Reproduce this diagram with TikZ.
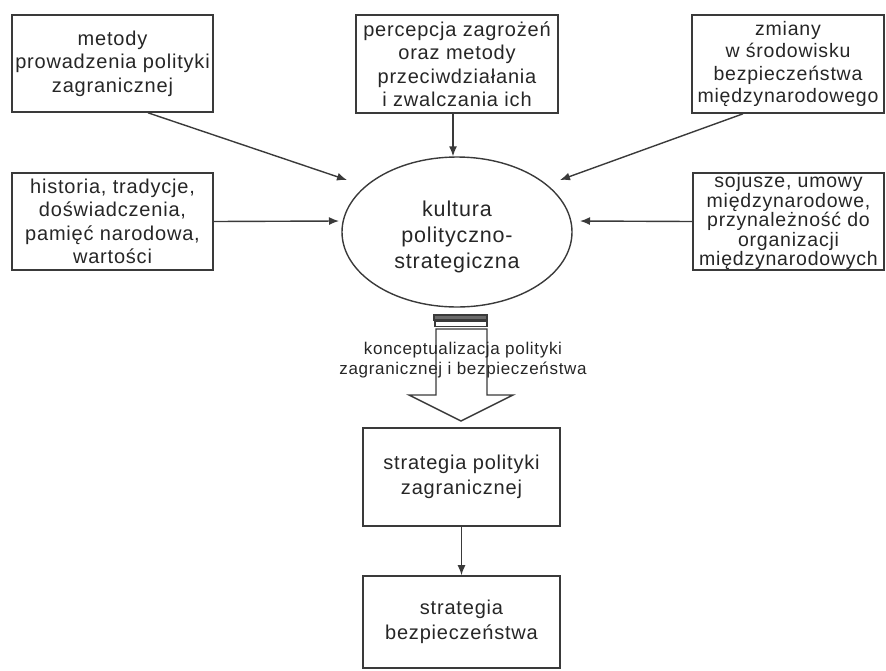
\documentclass[tikz,border=0pt]{standalone}
\usepackage{fontspec}
\setmainfont{Liberation Sans}[LetterSpace=4]
\usetikzlibrary{arrows.meta,shapes.geometric}

\definecolor{edge}{HTML}{3A3A3A}
\definecolor{band}{HTML}{6A6A6A}

\tikzset{
  infobox/.style={draw=edge, line width=1.6pt, fill=white, align=center,
    inner sep=0pt, font=\fontsize{20}{23.5}\selectfont, text=black!85},
  feed/.style={draw=edge, line width=1.4pt, -{Latex[length=10pt,width=8pt]}},
}

\begin{document}
\begin{tikzpicture}[x=1pt,y=-1pt]
\useasboundingbox (0,0) rectangle (886,670);

% influencing factors
\node[infobox, minimum width=201pt, minimum height=97pt] (b1) at (112.5,63.5)
  {metody\\prowadzenia polityki\\zagranicznej};
\node[infobox, minimum width=202pt, minimum height=98pt] (b2) at (457,64)
  {percepcja zagrożeń\\oraz metody\\przeciwdziałania\\i zwalczania ich};
\node[infobox, minimum width=192pt, minimum height=98pt,
      font=\fontsize{19.5}{22.5}\selectfont] (b3) at (788,64)
  {zmiany\\w środowisku\\bezpieczeństwa\\międzynarodowego};
\node[infobox, minimum width=201pt, minimum height=97pt] (b4) at (112.5,221.5)
  {historia, tradycje,\\doświadczenia,\\pamięć narodowa,\\wartości};
\node[infobox, minimum width=191pt, minimum height=97pt,
      font=\fontsize{19.5}{19.5}\selectfont] (b5) at (788.5,221.5)
  {sojusze, umowy\\międzynarodowe,\\przynależność do\\organizacji\\międzynarodowych};

% central culture
\node[draw=edge, line width=1.4pt, ellipse, minimum width=230pt, minimum height=150pt,
      inner sep=0pt] (e) at (457,232) {};
\node[align=center, text=black!85, inner sep=0pt,
      font=\fontsize{21.5}{26}\selectfont] (etext) at (457,237)
  {kultura\\polityczno-\\strategiczna};

% arrow tips near the ellipse
\coordinate (t1) at (347,180);
\coordinate (t3) at (560,180);
\coordinate (t4) at (339,221);
\coordinate (t5) at (580,221);

\draw[feed] ([xshift=35.5pt]b1.south) -- (t1);
\draw[feed] ([xshift=-4pt]b2.south) -- ([xshift=-4pt]b2.south |- e.north);
\draw[feed] ([xshift=-45pt]b3.south) -- (t3);
\draw[feed] (b4.east) -- (t4);
\draw[feed] (b5.west) -- (t5);

% striped block arrow
\fill[band] (434,315) rectangle (487,320);
\draw[edge, line width=1.2pt] (434,315) rectangle (487,320);
\draw[edge, line width=1.1pt] (435,321.5) rectangle (487,326.5);
\draw[edge, line width=1.4pt, fill=white, line join=miter]
  (436,329) -- (487,329) -- (487,395) -- (513,395) -- (461,421)
  -- (409,395) -- (436,395) -- cycle;
\node[align=center, text=black!85, font=\fontsize{17}{20}\selectfont,
      inner sep=0pt] (lbl) at (463,360)
  {konceptualizacja polityki\\zagranicznej i bezpieczeństwa};

% resulting strategies
\node[infobox, minimum width=197pt, minimum height=98pt,
      font=\fontsize{20}{25}\selectfont] (b6) at (461.5,477)
  {strategia polityki\\zagranicznej};
\node[infobox, minimum width=197pt, minimum height=92pt,
      font=\fontsize{20}{25}\selectfont] (b7) at (461.5,622)
  {strategia\\bezpieczeństwa};

\draw[feed] (b6.south) -- (b7.north);
\end{tikzpicture}
\end{document}
